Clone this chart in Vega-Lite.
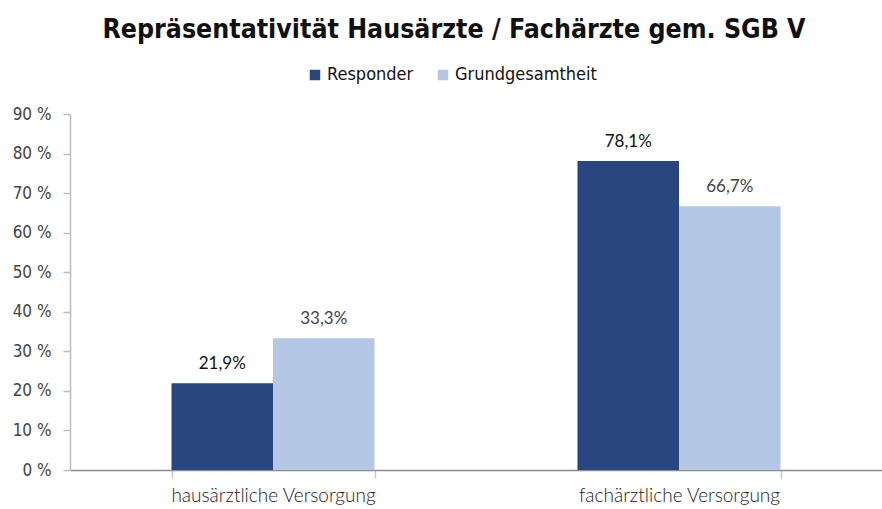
{
  "$schema": "https://vega.github.io/schema/vega-lite/v6.json",
  "autosize": {"type": "none"},
  "width": 812,
  "height": 356,
  "padding": {"left": 70, "top": 114, "right": 0, "bottom": 39},
  "background": "white",
  "title": {
    "text": "Repräsentativität Hausärzte / Fachärzte gem. SGB V",
    "font": "DejaVu Sans Condensed",
    "fontSize": 26.5,
    "fontWeight": "bold",
    "color": "#111111",
    "anchor": "middle",
    "dx": -22,
    "offset": 23
  },
  "config": {
    "locale": {"number": {"decimal": ",", "thousands": ".", "grouping": [3], "currency": ["", " €"]}},
    "view": {"stroke": null}
  },
  "data": {
    "values": [
      {"Versorgung": "hausärztliche Versorgung", "Gruppe": "Responder", "Anteil": 0.219},
      {"Versorgung": "hausärztliche Versorgung", "Gruppe": "Grundgesamtheit", "Anteil": 0.333},
      {"Versorgung": "fachärztliche Versorgung", "Gruppe": "Responder", "Anteil": 0.781},
      {"Versorgung": "fachärztliche Versorgung", "Gruppe": "Grundgesamtheit", "Anteil": 0.667}
    ]
  },
  "encoding": {
    "x": {
      "field": "Versorgung",
      "type": "nominal",
      "sort": ["hausärztliche Versorgung", "fachärztliche Versorgung"],
      "scale": {"paddingInner": 0.5, "paddingOuter": 0.25},
      "axis": {
        "title": null,
        "labelAngle": 0,
        "labelLimit": 0,
        "labelFont": "Lato",
        "labelFontSize": 19,
        "labelFontWeight": 300,
        "labelColor": "#222222",
        "labelPadding": 8,
        "domainColor": "#8c8c8c",
        "domainWidth": 1.5,
        "tickColor": "#c8c8c8",
        "tickSize": 8,
        "tickWidth": 1.5,
        "tickBand": "extent"
      }
    },
    "xOffset": {"field": "Gruppe", "type": "nominal", "sort": ["Responder", "Grundgesamtheit"], "scale": {"paddingInner": 0, "paddingOuter": 0}},
    "y": {
      "field": "Anteil",
      "type": "quantitative",
      "scale": {"domain": [0, 0.9], "nice": false},
      "axis": {
        "title": null,
        "values": [0, 0.1, 0.2, 0.3, 0.4, 0.5, 0.6, 0.7, 0.8, 0.9],
        "labelExpr": "format(datum.value * 100, 'd') + ' %'",
        "labelFont": "DejaVu Sans Condensed",
        "labelFontSize": 17,
        "labelColor": "#444444",
        "labelPadding": 12,
        "grid": false,
        "domainColor": "#bdbdbd",
        "domainWidth": 1.5,
        "tickColor": "#bdbdbd",
        "tickSize": 7,
        "tickWidth": 1.5
      }
    }
  },
  "layer": [
    {
      "mark": {"type": "bar"},
      "encoding": {
        "color": {
          "field": "Gruppe",
          "type": "nominal",
          "sort": ["Responder", "Grundgesamtheit"],
          "scale": {"domain": ["Responder", "Grundgesamtheit"], "range": ["#29477e", "#b4c7e5"]},
          "legend": {
            "title": null,
            "orient": "none",
            "direction": "horizontal",
            "legendX": 236,
            "legendY": -48,
            "symbolType": "square",
            "symbolSize": 110,
            "symbolStrokeWidth": 0,
            "labelFont": "DejaVu Sans Condensed",
            "labelFontSize": 18,
            "labelColor": "#111111",
            "labelOffset": 3,
            "columnPadding": 20
          }
        }
      }
    },
    {
      "mark": {"type": "text", "dy": -10, "baseline": "bottom", "font": "Lato", "fontSize": 17},
      "encoding": {
        "text": {"field": "Anteil", "type": "quantitative", "format": ".1%"},
        "color": {
          "condition": {"test": "datum.Gruppe === 'Responder'", "value": "#111111"},
          "value": "#444444"
        }
      }
    }
  ]
}
